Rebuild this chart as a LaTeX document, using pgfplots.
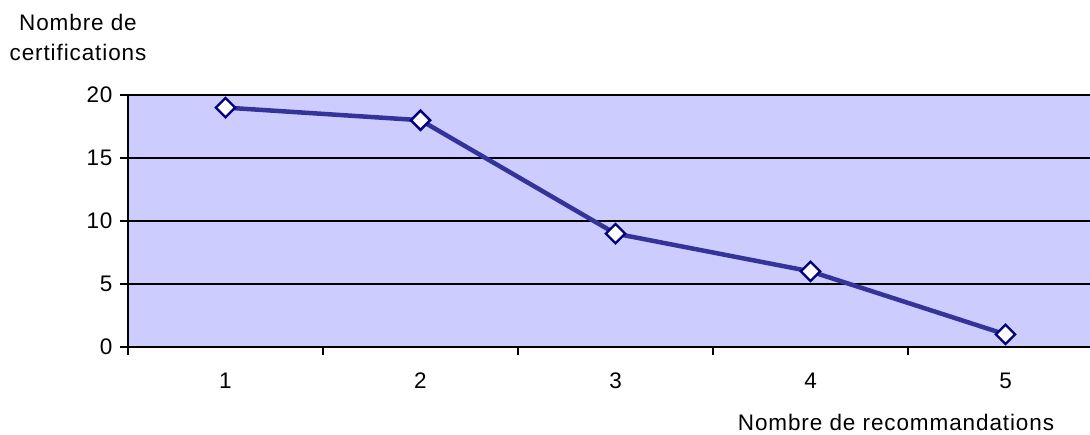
\documentclass[border=0pt]{standalone}
\usepackage{fontspec}
\setmainfont[LetterSpace=4]{Liberation Sans}
\usepackage{pgfplots}
\pgfplotsset{compat=1.18}
\definecolor{bgc}{RGB}{204,204,255}
\definecolor{linec}{RGB}{51,51,153}
\definecolor{markc}{RGB}{0,0,128}
\begin{document}
\begin{tikzpicture}
\useasboundingbox (-128pt,-88pt) rectangle (962pt,347pt);
\begin{axis}[
  scale only axis,
  width=962pt, height=252pt,
  at={(0pt,0pt)}, anchor=south west,
  xmin=0.5, xmax=5.4333,
  ymin=0, ymax=20,
  axis x line*=bottom,
  axis y line*=left,
  axis line style={line width=2.4pt, black},
  axis background/.style={fill=bgc},
  xtick={0.5,1.5,2.5,3.5,4.5},
  xticklabels={},
  extra x ticks={1,2,3,4,5},
  extra x tick labels={1,2,3,4,5},
  extra x tick style={major tick length=0pt, xticklabel style={yshift=-22pt}},
  major tick length=8pt,
  ytick={0,5,10,15,20},
  tick align=outside,
  tick style={line width=1.8pt, black},
  ymajorgrids,
  grid style={line width=2.2pt, black},
  /pgf/number format/assume math mode=true,
  ticklabel style={font=\fontsize{22.5}{26}\selectfont},
  yticklabel style={xshift=-4pt},
  clip=false,
]
\addplot[color=linec, line width=4.5pt,
  mark=square*, mark size=6.8pt,
  mark options={rotate=45, fill=white, draw=markc, line width=2.4pt}]
  coordinates {(1,19) (2,18) (3,9) (4,6) (5,1)};
\end{axis}
\node[align=center, font=\fontsize{22.5}{30}\selectfont] at (-50pt,310pt) {Nombre de\\certifications};
\node[font=\fontsize{22.5}{26}\selectfont] at (768pt,-75pt) {Nombre de recommandations};
\end{tikzpicture}
\end{document}
